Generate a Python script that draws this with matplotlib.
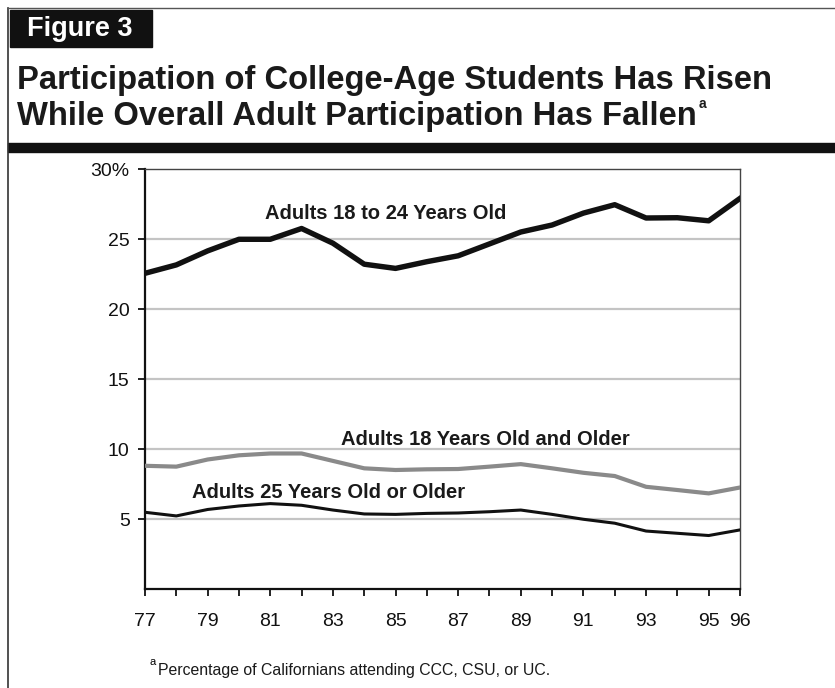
import matplotlib
matplotlib.use("Agg")
import matplotlib.pyplot as plt
from matplotlib import font_manager
from matplotlib.lines import Line2D
from matplotlib.patches import Rectangle

plt.rcParams['font.family'] = ['Liberation Sans', 'DejaVu Sans']

years = list(range(77, 97))
age_18_24 = [22.55, 23.15, 24.15, 24.98, 24.98, 25.75, 24.7, 23.2, 22.9, 23.38,
             23.8, 24.65, 25.5, 26.0, 26.85, 27.45, 26.5, 26.52, 26.3, 27.9]
age_18_up = [8.8, 8.74, 9.25, 9.55, 9.68, 9.68, 9.15, 8.62, 8.5, 8.55,
             8.57, 8.74, 8.92, 8.62, 8.3, 8.07, 7.3, 7.07, 6.83, 7.25]
age_25_up = [5.48, 5.22, 5.68, 5.93, 6.1, 5.98, 5.64, 5.36, 5.33, 5.4,
             5.43, 5.52, 5.64, 5.33, 4.98, 4.7, 4.14, 3.98, 3.82, 4.22]
y_ticks = [5, 10, 15, 20, 25, 30]
y_labels = ["5", "10", "15", "20", "25", "30%"]
x_labels = [str(y) if (y % 2 == 1 or y == 96) else "" for y in years]

# condensed font for the footnote if there is one
try:
    font_manager.findfont("Liberation Sans Narrow", fallback_to_default=False)
    note_family, note_size = ["Liberation Sans Narrow", "Liberation Sans"], 13.8
except Exception:
    note_family, note_size = ["Liberation Sans", "DejaVu Sans"], 11.4

W, H = 835, 688
fig = plt.figure(figsize=(W / 100, H / 100), dpi=100)

# frame lines and header
fig.add_artist(Line2D([8 / W, 8 / W], [0, 1 - 8 / H], color="#333333", lw=1.2))
fig.add_artist(Line2D([8 / W, 1], [1 - 8 / H, 1 - 8 / H], color="#555555", lw=1.0))
fig.add_artist(Rectangle((10 / W, 1 - 47 / H), 142 / W, 37 / H, color="#111111"))
fig.text(27 / W, 1 - 29 / H, "Figure 3", color="white", fontsize=19.5,
         fontweight="bold", va="center", ha="left")
fig.text(17 / W, 1 - 80 / H, "Participation of College-Age Students Has Risen",
         fontsize=23.6, fontweight="bold", va="center", ha="left", color="#1a1a1a")
t2 = fig.text(17 / W, 1 - 116 / H, "While Overall Adult Participation Has Fallen",
              fontsize=23.6, fontweight="bold", va="center", ha="left", color="#1a1a1a")
fig.add_artist(Rectangle((8 / W, 1 - 152 / H), 1, 9 / H, color="#111111"))

ax = fig.add_axes([145 / W, (H - 589) / H, (740 - 145) / W, (589 - 169) / H])
ax.set_xlim(77, 96)
ax.set_ylim(0, 30)

for v in y_ticks[:-1]:
    ax.axhline(v, color="#c4c4c4", lw=1.6, zorder=1)

ax.plot(years, age_18_24, color="#111111", lw=3.9, zorder=3)
ax.plot(years, age_18_up, color="#8a8a8a", lw=3.0, zorder=3)
ax.plot(years, age_25_up, color="#111111", lw=2.2, zorder=3)

ax.text(0.2017, 0.893, "Adults 18 to 24 Years Old", transform=ax.transAxes,
        fontsize=14.5, fontweight="bold", va="center", ha="left", color="#1a1a1a")
ax.text(0.329, 0.355, "Adults 18 Years Old and Older", transform=ax.transAxes,
        fontsize=14.5, fontweight="bold", va="center", ha="left", color="#1a1a1a")
ax.text(0.079, 0.229, "Adults 25 Years Old or Older", transform=ax.transAxes,
        fontsize=14.5, fontweight="bold", va="center", ha="left", color="#1a1a1a")

ax.set_yticks(y_ticks)
ax.set_yticklabels(y_labels)
ax.set_xticks(years)
ax.set_xticklabels(x_labels)
ax.tick_params(axis="both", direction="out", length=5, width=1.3, labelsize=14,
               colors="#111111")
ax.tick_params(axis="x", pad=12)
ax.tick_params(axis="y", pad=6)

for side in ["left", "bottom"]:
    ax.spines[side].set_linewidth(1.6)
    ax.spines[side].set_color("#111111")
for side in ["top", "right"]:
    ax.spines[side].set_linewidth(1.0)
    ax.spines[side].set_color("#444444")

# footnote
fig.text(150 / W, 1 - 662 / H, "a", fontsize=8, va="center", ha="left")
fig.text(158 / W, 1 - 670 / H, "Percentage of Californians attending CCC, CSU, or UC.",
         fontsize=note_size, family=note_family, va="center", ha="left", color="#1a1a1a")

# superscript after title
fig.canvas.draw()
bb = t2.get_window_extent()
fig.text((bb.x1 + 2) / W, 1 - 104 / H, "a", fontsize=10, fontweight="bold",
         va="center", ha="left", color="#1a1a1a")

fig.savefig("out.png", dpi=100)
